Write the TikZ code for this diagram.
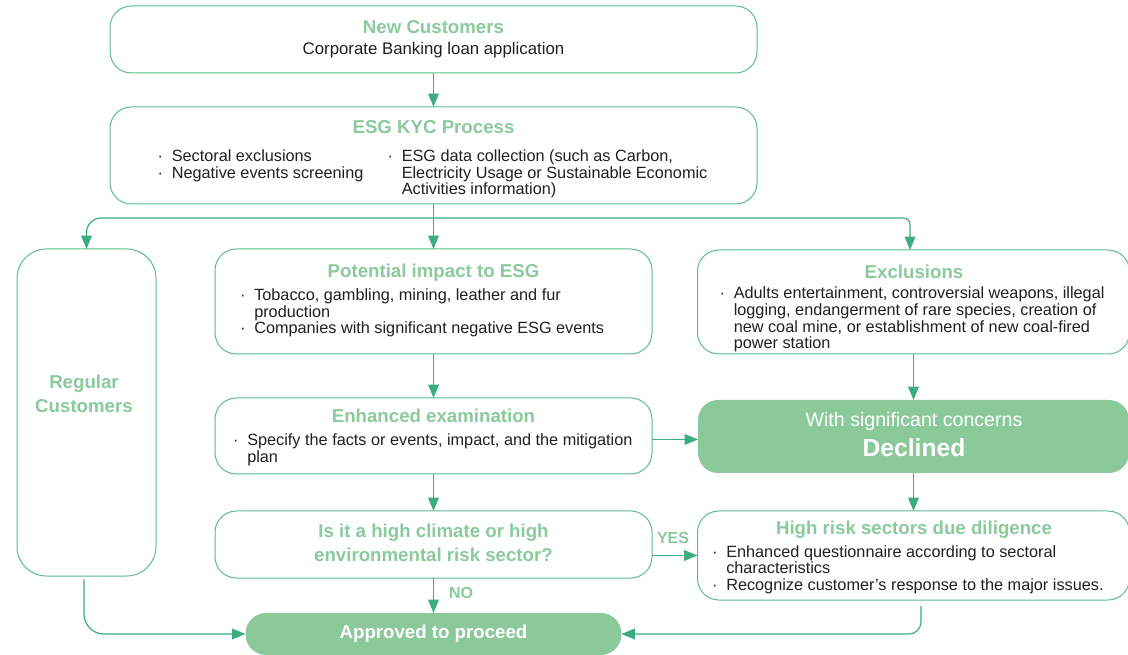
\documentclass[tikz,border=0pt]{standalone}
\usepackage{fontspec}
\setmainfont{Liberation Sans}
\usetikzlibrary{arrows.meta}
\definecolor{linegreen}{HTML}{3AAE7E}
\definecolor{bordergreen}{HTML}{5ABC90}
\definecolor{titlegreen}{HTML}{8ACA9C}
\definecolor{fillgreen}{HTML}{8BC99B}
\definecolor{bodytext}{HTML}{231F20}
\newcommand\pw[1]{#1*0.75pt}
\newcommand\bm{\llap{\textperiodcentered\hspace{6.5pt}}}
\newcommand\mlines[1]{\begin{tabular}[t]{@{}l@{}}#1\end{tabular}}
\newcommand\clines[1]{\begin{tabular}[t]{@{}c@{}}#1\end{tabular}}
\tikzset{
  box/.style={rectangle, draw=bordergreen, line width=0.75pt, rounded corners=16pt, inner sep=0pt, outer sep=0pt},
  fillbox/.style={rectangle, fill=fillgreen, draw=none, rounded corners=15pt, inner sep=0pt, outer sep=0pt},
  ln/.style={draw=linegreen, line width=0.9pt},
  arr/.style={draw=linegreen, line width=0.9pt, -{Triangle[length=10pt,width=8pt]}},
  ttl/.style={font=\bfseries\fontsize{14}{18}\selectfont, text=titlegreen, inner sep=0pt, anchor=base},
  wttl/.style={font=\bfseries\fontsize{14}{18}\selectfont, text=white, inner sep=0pt, anchor=base},
  txt/.style={font=\fontsize{12.2}{12}\selectfont, text=bodytext, inner sep=0pt, anchor=base west},
  lbl/.style={font=\bfseries\fontsize{12}{14}\selectfont, text=titlegreen, inner sep=0pt, anchor=base}
}
\begin{document}
\begin{tikzpicture}[x=0.75pt,y=-0.75pt]
\useasboundingbox (0,0) rectangle (1128,655);
\fill[white] (0,0) rectangle (1128,655);
% boxes
\node[box, minimum width=\pw{647}, minimum height=\pw{67}] (nc) at (433.5,39.5) {};
\node[box, minimum width=\pw{647}, minimum height=\pw{97}] (kyc) at (433.5,155.5) {};
\node[box, rounded corners=22pt, minimum width=\pw{139}, minimum height=\pw{327}] (reg) at (86.5,412.5) {};
\node[box, minimum width=\pw{437}, minimum height=\pw{105}] (pot) at (433.5,301.5) {};
\node[box, minimum width=\pw{432}, minimum height=\pw{104}] (exc) at (913.5,302) {};
\node[box, minimum width=\pw{437}, minimum height=\pw{76}] (enh) at (433.5,436) {};
\node[fillbox, minimum width=\pw{431}, minimum height=\pw{73}] (dec) at (913.5,436.5) {};
\node[box, minimum width=\pw{437}, minimum height=\pw{67}] (q) at (433.5,544.5) {};
\node[box, minimum width=\pw{432}, minimum height=\pw{89}] (hr) at (913.5,555.5) {};
\node[fillbox, rounded corners=15.5pt, minimum width=\pw{376}, minimum height=\pw{42}] (app) at (433.5,634) {};
% texts
\node[ttl] (ncT) at (433.5,34) {New Customers};
\node[txt, anchor=base, font=\fontsize{12.6}{12}\selectfont] (ncB) at (433.5,54.5) {Corporate Banking loan application};
\node[ttl] (kycT) at (433.5,133.5) {ESG KYC Process};
\node[txt] (kycL) at (171.5,161.5) {\mlines{\bm Sectoral exclusions\\ \bm Negative events screening}};
\node[txt] (kycR) at (401.5,161.5) {\mlines{\bm ESG data collection (such as Carbon,\\Electricity Usage or Sustainable Economic\\Activities information)}};
\node[ttl] (potT) at (433.5,277.5) {Potential impact to ESG};
\node[txt] (potB) at (254,300.5) {\mlines{\bm Tobacco, gambling, mining, leather and fur\\production\\ \bm Companies with significant negative ESG events}};
\node[ttl] (excT) at (914,278.5) {Exclusions};
\node[txt] (excB) at (733.5,299) {\mlines{\bm Adults entertainment, controversial weapons, illegal\\logging, endangerment of rare species, creation of\\new coal mine, or establishment of new coal-fired\\power station}};
\node[ttl] (regT) at (84,389) {\clines{Regular\\Customers}};
\node[ttl] (enhT) at (433.5,423) {Enhanced examination};
\node[txt] (enhB) at (247,445.5) {\mlines{\bm Specify the facts or events, impact, and the mitigation\\plan}};
\node[inner sep=0pt, anchor=base, text=white, font=\fontsize{14.7}{17}\selectfont] (decA) at (914,427) {With significant concerns};
\node[inner sep=0pt, anchor=base, text=white, font=\bfseries\fontsize{18.5}{22}\selectfont] (decB) at (914,456.5) {Declined};
\node[ttl] (qT) at (433.5,537.5) {\clines{Is it a high climate or high\\environmental risk sector?}};
\node[ttl] (hrT) at (914,534.5) {High risk sectors due diligence};
\node[txt] (hrB) at (726,557) {\mlines{\bm Enhanced questionnaire according to sectoral\\characteristics\\ \bm Recognize customer's response to the major issues.}};
\node[wttl] (appT) at (433.5,638) {Approved to proceed};
\node[lbl] (yes) at (673,543.3) {YES};
\node[lbl] (no) at (461,598) {NO};
% connectors
\coordinate (j) at (433.5,218);
\draw[arr] (nc) -- (kyc);
\draw[arr] (kyc) -- (pot);
\draw[arr, rounded corners=11pt] (j) -| (reg.north);
\draw[arr, rounded corners=5pt] (j) -| ([xshift=-2.6pt]exc.north);
\draw[arr] (pot) -- (enh);
\draw[arr] (enh) -- (q);
\draw[arr] (q) -- (app);
\draw[arr] (exc) -- (dec);
\draw[arr] (dec) -- (hr);
\draw[arr] ([yshift=-2.6pt]enh.east) -- ([yshift=-2.6pt]enh.east -| dec.west);
\draw[arr] (hr.west -| q.east) -- (hr.west);
\draw[arr, rounded corners=15pt] ([xshift=-1.9pt,yshift=-2.5pt]reg.south) |- (app.west);
\draw[arr, rounded corners=9pt] ([xshift=5.6pt,yshift=-4.5pt]hr.south) |- (app.east);
\end{tikzpicture}
\end{document}
